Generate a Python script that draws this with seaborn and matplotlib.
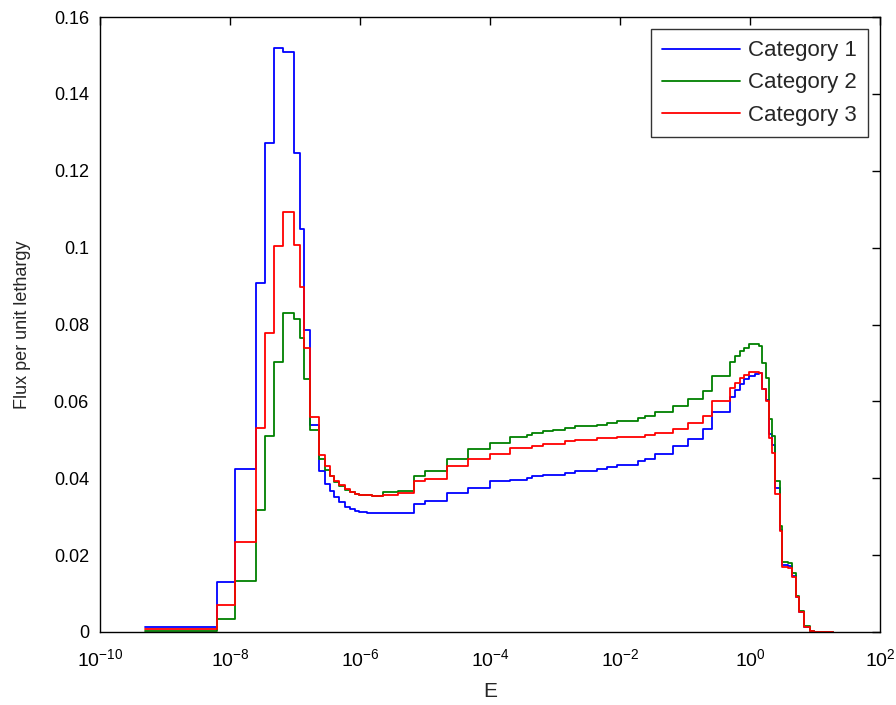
import numpy as np
import pandas as pd
import matplotlib
matplotlib.use("Agg")
import matplotlib.pyplot as plt
import seaborn as sns
from matplotlib.ticker import FixedLocator, NullLocator

# ---- data -------------------------------------------------------------
# bin edges as log10(E)
log_edges = [-9.308, -8.195, -7.923, -7.600, -7.457, -7.318, -7.180, -7.011, -6.923, -6.868,
             -6.765, -6.631, -6.538, -6.462, -6.395, -6.318, -6.231, -6.154, -6.077, -6.011,
             -5.897, -5.820, -5.642, -5.411, -5.162, -5.000, -4.666, -4.334, -4.000, -3.692,
             -3.435, -3.358, -3.180, -3.026, -2.846, -2.692, -2.358, -2.205, -2.051, -1.718,
             -1.615, -1.462, -1.180, -0.949, -0.723, -0.589, -0.315, -0.231, -0.154, -0.085,
             -0.015, 0.077, 0.138, 0.189, 0.240, 0.292, 0.333, 0.385, 0.454, 0.492,
             0.578, 0.651, 0.708, 0.758, 0.835, 0.923, 0.985, 1.282]

cat1 = [0.0012, 0.0130, 0.0425, 0.0908, 0.1271, 0.1520, 0.1509, 0.1245, 0.1048, 0.0786,
        0.0539, 0.0418, 0.0386, 0.0366, 0.0351, 0.0338, 0.0325, 0.0320, 0.0316, 0.0313,
        0.0310, 0.0310, 0.0310, 0.0310, 0.0333, 0.0340, 0.0361, 0.0375, 0.0392, 0.0396,
        0.0401, 0.0407, 0.0409, 0.0409, 0.0414, 0.0418, 0.0424, 0.0429, 0.0435, 0.0446,
        0.0451, 0.0464, 0.0483, 0.0502, 0.0528, 0.0573, 0.0611, 0.0629, 0.0644, 0.0658,
        0.0666, 0.0672, 0.0674, 0.0631, 0.0603, 0.0516, 0.0487, 0.0374, 0.0265, 0.0175,
        0.0172, 0.0146, 0.0092, 0.0053, 0.0014, 0.0003, 0.0001]

cat2 = [0.0003, 0.0033, 0.0133, 0.0318, 0.0510, 0.0702, 0.0830, 0.0815, 0.0764, 0.0659,
        0.0525, 0.0451, 0.0422, 0.0405, 0.0389, 0.0379, 0.0370, 0.0363, 0.0359, 0.0357,
        0.0357, 0.0355, 0.0363, 0.0367, 0.0407, 0.0418, 0.0450, 0.0477, 0.0493, 0.0507,
        0.0512, 0.0518, 0.0522, 0.0526, 0.0531, 0.0535, 0.0539, 0.0544, 0.0550, 0.0557,
        0.0561, 0.0573, 0.0587, 0.0605, 0.0628, 0.0667, 0.0703, 0.0717, 0.0730, 0.0740,
        0.0750, 0.0748, 0.0743, 0.0700, 0.0661, 0.0554, 0.0511, 0.0394, 0.0275, 0.0183,
        0.0180, 0.0154, 0.0094, 0.0054, 0.0015, 0.0003, 0.0001]

cat3 = [0.0007, 0.0070, 0.0233, 0.0531, 0.0778, 0.1004, 0.1093, 0.1006, 0.0898, 0.0738,
        0.0560, 0.0461, 0.0433, 0.0407, 0.0394, 0.0383, 0.0372, 0.0364, 0.0359, 0.0357,
        0.0357, 0.0353, 0.0356, 0.0361, 0.0394, 0.0399, 0.0431, 0.0450, 0.0464, 0.0479,
        0.0479, 0.0485, 0.0490, 0.0490, 0.0496, 0.0500, 0.0505, 0.0505, 0.0507, 0.0507,
        0.0512, 0.0518, 0.0529, 0.0545, 0.0563, 0.0601, 0.0635, 0.0648, 0.0660, 0.0668,
        0.0676, 0.0676, 0.0674, 0.0631, 0.0600, 0.0505, 0.0466, 0.0360, 0.0262, 0.0170,
        0.0166, 0.0144, 0.0092, 0.0053, 0.0014, 0.0003, 0.0001]

categories = ["Category 1", "Category 2", "Category 3"]
colors = ["#0000ff", "#008000", "#ff0000"]
x_ticks = [1e-10, 1e-8, 1e-6, 1e-4, 1e-2, 1e0, 1e2]
x_tick_labels = [r"$\mathregular{10^{-10}}$", r"$\mathregular{10^{-8}}$", r"$\mathregular{10^{-6}}$",
                 r"$\mathregular{10^{-4}}$", r"$\mathregular{10^{-2}}$", r"$\mathregular{10^{0}}$",
                 r"$\mathregular{10^{2}}$"]
y_ticks = [0, 0.02, 0.04, 0.06, 0.08, 0.10, 0.12, 0.14, 0.16]
y_tick_labels = ["0", "0.02", "0.04", "0.06", "0.08", "0.1", "0.12", "0.14", "0.16"]

# ---- long-form table for step lines -----------------------------------
edges = np.power(10.0, np.array(log_edges))
frames = []
for name, vals in zip(categories, [cat1, cat2, cat3]):
    v = list(vals) + [vals[-1]]
    frames.append(pd.DataFrame({"E": edges, "flux": v, "cat": name}))
df = pd.concat(frames, ignore_index=True)

# ---- plot -------------------------------------------------------------
sns.set_theme(style="white")
plt.rcParams["font.family"] = ["Liberation Sans", "DejaVu Sans"]
plt.rcParams["mathtext.fontset"] = "custom"
plt.rcParams["mathtext.rm"] = "Liberation Sans"

fig = plt.figure(figsize=(8.96, 7.05), dpi=100)
ax = fig.add_axes([100 / 896, 1 - 632 / 705, 780 / 896, 615 / 705])

sns.lineplot(data=df, x="E", y="flux", hue="cat", palette=colors, hue_order=categories,
             estimator=None, drawstyle="steps-post", linewidth=1.3, ax=ax)

ax.set_xscale("log")
ax.set_xlim(1e-10, 1e2)
ax.set_ylim(0, 0.16)
ax.xaxis.set_major_locator(FixedLocator(x_ticks))
ax.set_xticklabels(x_tick_labels)
ax.xaxis.set_minor_locator(NullLocator())
ax.set_yticks(y_ticks)
ax.set_yticklabels(y_tick_labels)

ax.tick_params(direction="in", top=True, right=True, length=6, width=1,
               colors="black")
ax.tick_params(axis="x", labelsize=14, pad=12)
ax.tick_params(axis="y", labelsize=13, pad=8)
for sp in ax.spines.values():
    sp.set_color("black")
    sp.set_linewidth(1.0)

ax.set_xlabel("E", fontsize=15, labelpad=8)
ax.set_ylabel("Flux per unit lethargy", fontsize=13, labelpad=16)

leg = ax.legend(loc="upper right", fontsize=16, frameon=True, fancybox=False,
                edgecolor="black", handlelength=3.5, handletextpad=0.35,
                borderaxespad=0.55, labelspacing=0.5, borderpad=0.5)
leg.get_frame().set_linewidth(1.0)
leg.set_title(None)

fig.savefig("out.png", dpi=100)
